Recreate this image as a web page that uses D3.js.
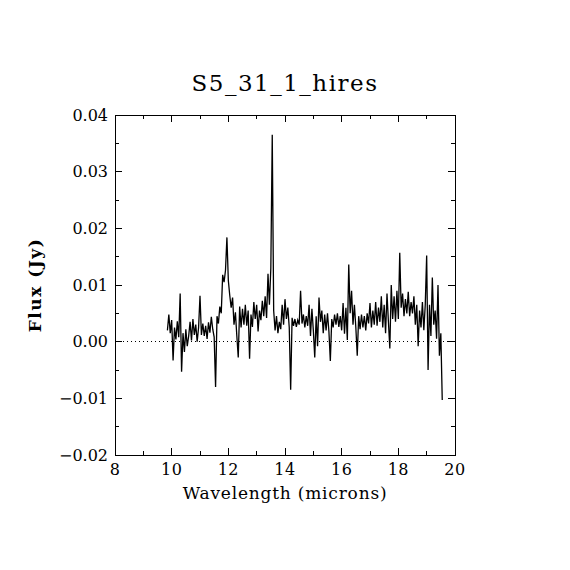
<!DOCTYPE html>
<html><head><meta charset="utf-8">
<script src="https://cdn.jsdelivr.net/npm/d3@7"></script>
<style>body{margin:0;background:#fff}svg{display:block}text{font-family:"DejaVu Serif",serif;fill:#000}</style>
</head><body><svg id="c" width="570" height="570"></svg>
<script>
const title = "S5_31_1_hires";
const xLabel = "Wavelength (microns)";
const yLabel = "Flux (Jy)";
const xTicks = [8, 10, 12, 14, 16, 18, 20];
const yTicks = [-0.02, -0.01, 0.00, 0.01, 0.02, 0.03, 0.04];
const wavelength = [
9.85,9.90,9.95,10.00,10.05,10.10,10.15,10.20,10.25,10.30,10.35,10.40,10.45,10.50,10.55,10.60,10.65,10.70,10.75,10.80,
10.85,10.90,10.95,11.00,11.05,11.10,11.15,11.20,11.25,11.30,11.35,11.40,11.45,11.50,11.55,11.60,11.65,11.70,11.75,11.80,
11.85,11.90,11.95,12.00,12.05,12.10,12.15,12.20,12.25,12.30,12.35,12.40,12.45,12.50,12.55,12.60,12.65,12.70,12.75,12.80,
12.85,12.90,12.95,13.00,13.05,13.10,13.15,13.20,13.25,13.30,13.35,13.40,13.45,13.50,13.55,13.60,13.65,13.70,13.75,13.80,
13.85,13.90,13.95,14.00,14.05,14.10,14.15,14.20,14.25,14.30,14.35,14.40,14.45,14.50,14.55,14.60,14.65,14.70,14.75,14.80,
14.85,14.90,14.95,15.00,15.05,15.10,15.15,15.20,15.25,15.30,15.35,15.40,15.45,15.50,15.55,15.60,15.65,15.70,15.75,15.80,
15.85,15.90,15.95,16.00,16.05,16.10,16.15,16.20,16.25,16.30,16.35,16.40,16.45,16.50,16.55,16.60,16.65,16.70,16.75,16.80,
16.85,16.90,16.95,17.00,17.05,17.10,17.15,17.20,17.25,17.30,17.35,17.40,17.45,17.50,17.55,17.60,17.65,17.70,17.75,17.80,
17.85,17.90,17.95,18.00,18.05,18.10,18.15,18.20,18.25,18.30,18.35,18.40,18.45,18.50,18.55,18.60,18.65,18.70,18.75,18.80,
18.85,18.90,18.95,19.00,19.05,19.10,19.15,19.20,19.25,19.30,19.35,19.40,19.45,19.50,19.55];
const flux = [
0.0020,0.0048,0.0015,0.0038,-0.0033,0.0025,0.0004,0.0036,0.0008,0.0085,-0.0053,0.0015,-0.0018,0.0022,-0.0008,0.0010,0.0035,0.0002,0.0040,0.0012,
0.0030,0.0000,0.0025,0.0081,0.0012,0.0032,0.0010,0.0028,0.0005,0.0034,0.0016,0.0044,0.0022,0.0008,-0.0080,0.0045,0.0032,0.0062,0.0050,0.0118,
0.0105,0.0126,0.0184,0.0108,0.0082,0.0060,0.0078,0.0030,0.0052,0.0010,-0.0028,0.0062,0.0025,0.0058,0.0030,0.0065,0.0028,0.0055,-0.0030,0.0048,
0.0026,0.0070,0.0040,0.0065,0.0018,0.0055,0.0038,0.0072,0.0045,0.0080,0.0042,0.0120,0.0065,0.0130,0.0365,0.0055,0.0020,0.0045,0.0015,0.0035,
0.0022,0.0065,0.0030,0.0075,0.0040,0.0060,0.0025,-0.0085,0.0042,0.0028,0.0040,0.0026,0.0038,0.0030,0.0090,0.0032,0.0048,0.0025,0.0045,0.0028,
0.0065,0.0010,0.0058,0.0020,-0.0028,0.0045,-0.0008,0.0078,0.0035,0.0055,0.0015,0.0048,0.0020,0.0050,0.0018,-0.0034,0.0040,0.0025,0.0048,0.0030,
0.0050,0.0026,0.0045,0.0020,0.0068,0.0014,0.0060,0.0003,0.0136,0.0050,0.0090,0.0030,0.0065,0.0025,-0.0025,0.0045,0.0022,0.0048,0.0025,0.0045,
0.0020,0.0050,0.0032,0.0068,0.0025,0.0055,0.0030,0.0070,0.0028,0.0060,0.0035,0.0080,0.0025,0.0065,0.0015,0.0085,0.0035,-0.0012,0.0100,0.0040,
0.0080,0.0035,0.0090,0.0040,0.0157,0.0060,0.0085,0.0045,0.0075,0.0050,0.0088,0.0045,0.0070,0.0050,0.0080,0.0030,0.0065,-0.0008,0.0055,0.0025,
0.0070,0.0020,0.0065,0.0152,-0.0050,0.0065,0.0010,0.0113,0.0030,0.0055,0.0005,0.0100,-0.0025,0.0015,-0.0103];

const svg = d3.select("#c");
const L = 115, R = 455, T = 115, B = 455;
const x = d3.scaleLinear().domain([8, 20]).range([L, R]);
const y = d3.scaleLinear().domain([-0.02, 0.04]).range([B, T]);
const ink = "#000";

svg.append("rect").attr("x", L).attr("y", T).attr("width", R - L).attr("height", B - T)
  .attr("fill", "none").attr("stroke", ink).attr("stroke-width", 1).attr("shape-rendering", "crispEdges");

const xMinor = d3.range(8, 20.001, 1);
const yMinor = d3.range(-0.02, 0.0401, 0.005);
const g = svg.append("g").attr("stroke", ink).attr("stroke-width", 1).attr("shape-rendering", "crispEdges");
xMinor.forEach(v => {
  const len = xTicks.some(t => Math.abs(t - v) < 1e-9) ? 7 : 4;
  g.append("line").attr("x1", x(v)).attr("x2", x(v)).attr("y1", B).attr("y2", B - len);
  g.append("line").attr("x1", x(v)).attr("x2", x(v)).attr("y1", T).attr("y2", T + len);
});
yMinor.forEach(v => {
  const len = yTicks.some(t => Math.abs(t - v) < 1e-9) ? 7 : 4;
  g.append("line").attr("y1", y(v)).attr("y2", y(v)).attr("x1", L).attr("x2", L + len);
  g.append("line").attr("y1", y(v)).attr("y2", y(v)).attr("x1", R).attr("x2", R - len);
});

svg.append("g").selectAll("text").data(xTicks).join("text")
  .attr("x", d => x(d)).attr("y", B + 20).attr("text-anchor", "middle")
  .attr("font-size", 16).attr("letter-spacing", 0.5).text(d => d3.format("d")(d));
svg.append("g").selectAll("text").data(yTicks).join("text")
  .attr("x", L - 7).attr("y", d => y(d)).attr("dy", "0.35em").attr("text-anchor", "end")
  .attr("font-size", 16).text(d => (d < 0 ? "\u2212" : "") + d3.format(".2f")(Math.abs(d)));

svg.append("line").attr("x1", L).attr("x2", R).attr("y1", y(0)).attr("y2", y(0))
  .attr("stroke", ink).attr("stroke-width", 1).attr("stroke-dasharray", "1,3")
  .attr("shape-rendering", "crispEdges");

const pts = wavelength.map((w, i) => [w, flux[i]]);
svg.append("path").datum(pts)
  .attr("d", d3.line().x(d => x(d[0])).y(d => y(d[1])))
  .attr("fill", "none").attr("stroke", ink).attr("stroke-width", 1.3);

svg.append("text").attr("x", (L + R) / 2).attr("y", 91).attr("text-anchor", "middle")
  .attr("font-size", 23).attr("letter-spacing", 1.5).text(title);
svg.append("text").attr("x", (L + R) / 2).attr("y", 499).attr("text-anchor", "middle")
  .attr("font-size", 17).attr("letter-spacing", 0.8).text(xLabel);
svg.append("text").attr("transform", `translate(41,${(T + B) / 2}) rotate(-90)`)
  .attr("text-anchor", "middle").attr("font-size", 17).attr("font-weight", "bold")
  .attr("letter-spacing", 1.5).text(yLabel);
</script></body></html>
